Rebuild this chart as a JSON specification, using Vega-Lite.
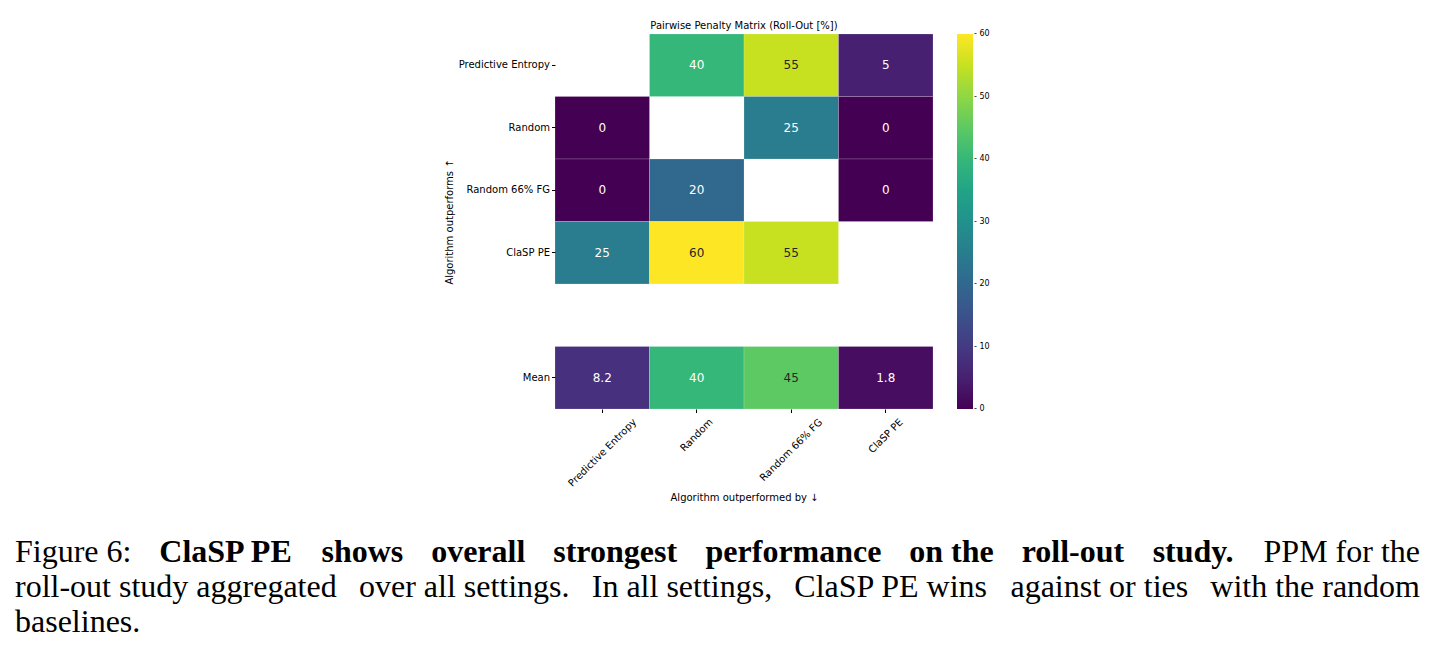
{
  "$schema": "https://vega.github.io/schema/vega-lite/v6.json",
  "padding": {"left": 15, "top": 20, "right": 0, "bottom": 0},
  "config": {
    "font": "DejaVu Sans",
    "view": {"stroke": null},
    "axis": {"labelColor": "#000000", "titleColor": "#000000", "tickColor": "#000000", "labelFont": "DejaVu Sans", "titleFont": "DejaVu Sans"},
    "text": {"font": "Liberation Serif", "fontSize": 32, "baseline": "alphabetic", "color": "#000000"}
  },
  "spacing": 33,
  "resolve": {"legend": {"color": "independent"}},
  "vconcat": [
    {
      "spacing": 0,
      "resolve": {"legend": {"color": "independent"}},
      "hconcat": [
        {
          "width": 429,
          "height": 1,
          "data": {"values": []},
          "mark": "rect"
        },
        {
          "width": 378,
          "height": 375,
          "title": {
            "text": "Pairwise Penalty Matrix (Roll-Out [%])",
            "fontSize": 10,
            "fontWeight": "normal",
            "color": "#000000",
            "anchor": "middle",
            "frame": "group",
            "offset": 3
          },
          "data": {
            "values": [
              {"row": "Predictive Entropy", "col": "Random", "value": 40},
              {"row": "Predictive Entropy", "col": "Random 66% FG", "value": 55},
              {"row": "Predictive Entropy", "col": "ClaSP PE", "value": 5},
              {"row": "Random", "col": "Predictive Entropy", "value": 0},
              {"row": "Random", "col": "Random 66% FG", "value": 25},
              {"row": "Random", "col": "ClaSP PE", "value": 0},
              {"row": "Random 66% FG", "col": "Predictive Entropy", "value": 0},
              {"row": "Random 66% FG", "col": "Random", "value": 20},
              {"row": "Random 66% FG", "col": "ClaSP PE", "value": 0},
              {"row": "ClaSP PE", "col": "Predictive Entropy", "value": 25},
              {"row": "ClaSP PE", "col": "Random", "value": 60},
              {"row": "ClaSP PE", "col": "Random 66% FG", "value": 55},
              {"row": "Mean", "col": "Predictive Entropy", "value": 8.2},
              {"row": "Mean", "col": "Random", "value": 40},
              {"row": "Mean", "col": "Random 66% FG", "value": 45},
              {"row": "Mean", "col": "ClaSP PE", "value": 1.8}
            ]
          },
          "encoding": {
            "x": {
              "field": "col",
              "type": "nominal",
              "scale": {
                "domain": ["Predictive Entropy", "Random", "Random 66% FG", "ClaSP PE"],
                "paddingInner": 0,
                "paddingOuter": 0
              },
              "axis": {
                "orient": "bottom",
                "domain": false,
                "labelAngle": -45,
                "labelAlign": "right",
                "labelBaseline": "top",
                "labelFontSize": 10,
                "labelPadding": 4,
                "labelOffset": {
                  "condition": [
                    {"test": "datum.value === 'Predictive Entropy'", "value": 29},
                    {"test": "datum.value === 'Random 66% FG'", "value": 26},
                    {"test": "datum.value === 'ClaSP PE'", "value": 12}
                  ],
                  "value": 11
                },
                "tickSize": 3.5,
                "title": "Algorithm outperformed by ↓",
                "titleFontSize": 10,
                "titleFontWeight": "normal",
                "titlePadding": 4
              }
            },
            "y": {
              "field": "row",
              "type": "nominal",
              "scale": {
                "domain": ["Predictive Entropy", "Random", "Random 66% FG", "ClaSP PE", "gap", "Mean"],
                "paddingInner": 0,
                "paddingOuter": 0
              },
              "axis": {
                "domain": false,
                "labelFontSize": 10,
                "labelPadding": 2,
                "labelExpr": "datum.value === 'gap' ? '' : datum.value",
                "tickSize": 3.5,
                "tickOpacity": {"condition": {"test": "datum.value === 'gap'", "value": 0}, "value": 1},
                "title": "Algorithm outperforms ↑",
                "titleFontSize": 10,
                "titleFontWeight": "normal",
                "titlePadding": 4
              }
            }
          },
          "layer": [
            {
              "mark": {"type": "rect", "stroke": "#ffffff", "strokeWidth": 0.5, "strokeOpacity": 0.35},
              "encoding": {
                "color": {
                  "field": "value",
                  "type": "quantitative",
                  "scale": {"scheme": "viridis", "domain": [0, 60]},
                  "legend": {
                    "orient": "right",
                    "offset": 24,
                    "direction": "vertical",
                    "title": null,
                    "gradientLength": 375,
                    "gradientThickness": 16,
                    "gradientStrokeWidth": 0,
                    "values": [0, 10, 20, 30, 40, 50, 60],
                    "labelExpr": "'- ' + datum.label",
                    "labelFontSize": 8,
                    "labelOffset": 1,
                    "labelBaseline": "middle",
                    "labelOverlap": false,
                    "labelColor": "#000000",
                    "encoding": {"labels": {"baseline": {"value": "middle"}}}
                  }
                }
              }
            },
            {
              "mark": {"type": "text", "font": "DejaVu Sans", "fontSize": 12, "baseline": "middle", "align": "center"},
              "encoding": {
                "text": {"field": "value", "type": "quantitative", "format": "~g"},
                "color": {
                  "condition": {"test": "datum.value >= 45", "value": "#262626"},
                  "value": "#ffffff"
                }
              }
            }
          ]
        }
      ]
    },
    {
      "width": 1405,
      "height": 70,
      "data": {
        "values": [
          {"line": 1, "seg": "a", "text": "Figure 6:"},
          {"line": 1, "seg": "b", "text": "ClaSP PE"},
          {"line": 1, "seg": "c", "text": "shows"},
          {"line": 1, "seg": "d", "text": "overall"},
          {"line": 1, "seg": "e", "text": "strongest"},
          {"line": 1, "seg": "f", "text": "performance"},
          {"line": 1, "seg": "g", "text": "on the"},
          {"line": 1, "seg": "h", "text": "roll-out"},
          {"line": 1, "seg": "i", "text": "study."},
          {"line": 1, "seg": "z", "text": "PPM for the"},
          {"line": 2, "seg": "a", "text": "roll-out study aggregated"},
          {"line": 2, "seg": "k", "text": "over all settings."},
          {"line": 2, "seg": "l", "text": "In all settings,"},
          {"line": 2, "seg": "m", "text": "ClaSP PE wins"},
          {"line": 2, "seg": "n", "text": "against or ties"},
          {"line": 2, "seg": "z", "text": "with the random"},
          {"line": 3, "seg": "a", "text": "baselines."}
        ]
      },
      "encoding": {
        "y": {"field": "line", "type": "quantitative", "scale": {"domain": [1, 3], "reverse": true}, "axis": null},
        "text": {"field": "text", "type": "nominal"}
      },
      "layer": [
        {
          "transform": [{"filter": "datum.seg === 'a'"}],
          "mark": {"type": "text", "align": "left"},
          "encoding": {"x": {"datum": 0, "type": "quantitative", "scale": {"domain": [0, 1]}, "axis": null}}
        },
        {
          "transform": [{"filter": "datum.seg === 'b'"}],
          "mark": {"type": "text", "align": "left", "fontWeight": "bold"},
          "encoding": {"x": {"datum": 0.1027, "type": "quantitative"}}
        },
        {
          "transform": [{"filter": "datum.seg === 'c'"}],
          "mark": {"type": "text", "align": "left", "fontWeight": "bold"},
          "encoding": {"x": {"datum": 0.2181, "type": "quantitative"}}
        },
        {
          "transform": [{"filter": "datum.seg === 'd'"}],
          "mark": {"type": "text", "align": "left", "fontWeight": "bold"},
          "encoding": {"x": {"datum": 0.2962, "type": "quantitative"}}
        },
        {
          "transform": [{"filter": "datum.seg === 'e'"}],
          "mark": {"type": "text", "align": "left", "fontWeight": "bold"},
          "encoding": {"x": {"datum": 0.3831, "type": "quantitative"}}
        },
        {
          "transform": [{"filter": "datum.seg === 'f'"}],
          "mark": {"type": "text", "align": "left", "fontWeight": "bold"},
          "encoding": {"x": {"datum": 0.4915, "type": "quantitative"}}
        },
        {
          "transform": [{"filter": "datum.seg === 'g'"}],
          "mark": {"type": "text", "align": "left", "fontWeight": "bold"},
          "encoding": {"x": {"datum": 0.6365, "type": "quantitative"}}
        },
        {
          "transform": [{"filter": "datum.seg === 'h'"}],
          "mark": {"type": "text", "align": "left", "fontWeight": "bold"},
          "encoding": {"x": {"datum": 0.7165, "type": "quantitative"}}
        },
        {
          "transform": [{"filter": "datum.seg === 'i'"}],
          "mark": {"type": "text", "align": "left", "fontWeight": "bold"},
          "encoding": {"x": {"datum": 0.8097, "type": "quantitative"}}
        },
        {
          "transform": [{"filter": "datum.seg === 'k'"}],
          "mark": {"type": "text", "align": "left"},
          "encoding": {"x": {"datum": 0.2448, "type": "quantitative"}}
        },
        {
          "transform": [{"filter": "datum.seg === 'l'"}],
          "mark": {"type": "text", "align": "left"},
          "encoding": {"x": {"datum": 0.4105, "type": "quantitative"}}
        },
        {
          "transform": [{"filter": "datum.seg === 'm'"}],
          "mark": {"type": "text", "align": "left"},
          "encoding": {"x": {"datum": 0.5547, "type": "quantitative"}}
        },
        {
          "transform": [{"filter": "datum.seg === 'n'"}],
          "mark": {"type": "text", "align": "left"},
          "encoding": {"x": {"datum": 0.7085, "type": "quantitative"}}
        },
        {
          "transform": [{"filter": "datum.seg === 'z'"}],
          "mark": {"type": "text", "align": "right"},
          "encoding": {"x": {"datum": 1, "type": "quantitative"}}
        }
      ]
    }
  ]
}
